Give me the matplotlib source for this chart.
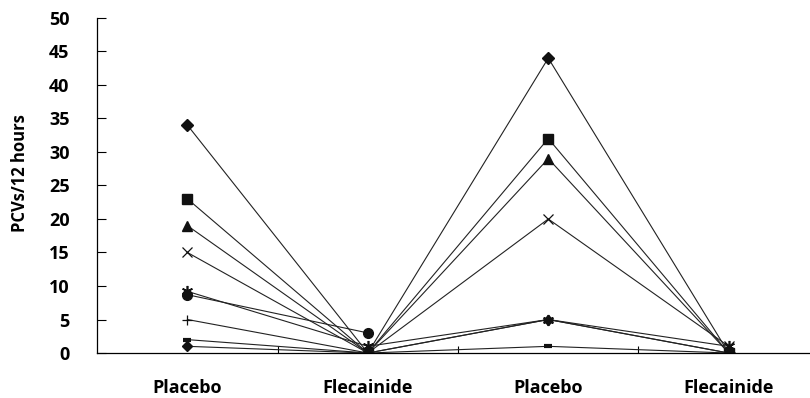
import matplotlib.pyplot as plt
import numpy as np

# categorie asse x
categorie = ['Placebo', 'Flecainide', 'Placebo', 'Flecainide']

# PCVs/12 ore per paziente
y1 = [34, 0, 44, 0]          # rombo
y2 = [23, 0, 32, 0]          # quadrato
y3 = [19, 0, 29, 0]          # triangolo
y4 = [15, 0, 20, 1]          # x
y5 = [9.2, 1, 5, 1]          # asterisco
y6 = [8.7, 3, np.nan, np.nan]  # cerchio
y7 = [5, 0, 5, 0]            # piu
y8 = [2, 0, 1, 0]            # trattino
y9 = [1, 0, 5, 0]            # rombo piccolo

plt.rcParams['font.family'] = ['Open Sans', 'DejaVu Sans']

fig = plt.figure(figsize=(8.1, 3.98), dpi=100)
ax = fig.add_axes([0.12, 0.113, 0.891, 0.842])

x = np.arange(len(categorie))
serie = [
    (y1, 'D', 6, 1),
    (y2, 's', 7, 1),
    (y3, '^', 7, 1),
    (y4, 'x', 7, 0.9),
    (y5, (6, 2, 0), 8, 1.2),
    (y6, 'o', 7, 1),
    (y7, '+', 7, 0.9),
    (y8, '_', 6, 3),
    (y9, 'D', 5, 1),
]
for y, m, ms, mew in serie:
    ax.plot(x, y, color='#222222', linewidth=0.8, marker=m, markersize=ms,
            markeredgewidth=mew, markerfacecolor='#111111', markeredgecolor='#111111')

ax.set_xlim(-0.5, 3.5)
ax.set_ylim(0, 50)
ax.set_yticks(np.arange(0, 51, 5))
ax.set_xticks(x)
ax.set_xticklabels(categorie, fontsize=13, fontweight='bold')
ax.set_xticks([0.5, 1.5, 2.5], minor=True)
ax.tick_params(axis='x', which='major', length=0, pad=19)
ax.tick_params(axis='x', which='minor', direction='in', length=5, width=0.8)
ax.tick_params(axis='y', direction='in', length=6.5, width=0.8, pad=20, labelsize=13)
for lab in ax.get_yticklabels():
    lab.set_fontweight('bold')
ax.set_ylabel('PCVs/12 hours', fontsize=12, fontweight='bold')
ax.yaxis.set_label_coords(-0.095, 0.537)

ax.spines['top'].set_visible(False)
ax.spines['right'].set_visible(False)
ax.spines['left'].set_linewidth(0.9)
ax.spines['bottom'].set_linewidth(0.9)

plt.savefig('out.png', dpi=100)
